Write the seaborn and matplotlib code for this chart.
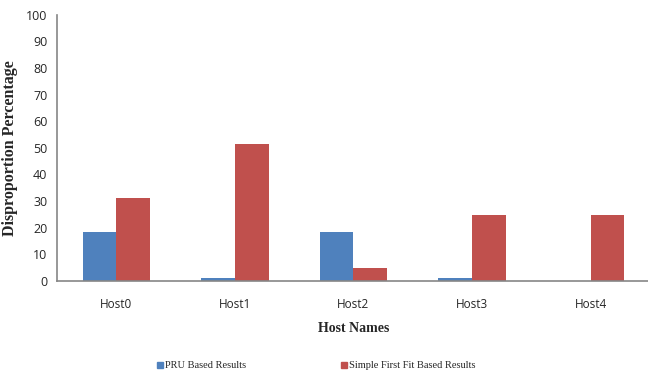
import numpy as np
import pandas as pd
import seaborn as sns
import matplotlib.pyplot as plt
from matplotlib.lines import Line2D

hosts = ['Host0', 'Host1', 'Host2', 'Host3', 'Host4']
series = ['PRU Based Results', 'Simple First Fit Based Results']
pru_values = [18.3, 1.0, 18.3, 1.0, 0.0]
sff_values = [31.1, 51.6, 4.9, 24.7, 24.7]
colors = ['#4F81BD', '#C0504D']

data = pd.DataFrame({
    'host': hosts * 2,
    'series': [series[0]] * len(hosts) + [series[1]] * len(hosts),
    'value': pru_values + sff_values,
})

sns.set_style('white')

fig = plt.figure(figsize=(6.48, 3.71), dpi=100)
ax = fig.add_axes([0.088, 0.243, 0.915, 0.717])

sns.barplot(data=data, x='host', y='value', hue='series', palette=colors,
            width=0.57, saturation=1, linewidth=0, ax=ax, legend=False)

ax.set_xlim(-0.5, 4.5)
ax.set_ylim(0, 100)
ax.set_yticks(np.arange(0, 101, 10))

# tick marks sit between the categories, labels in the middle
ax.set_xticks(np.arange(len(hosts)))
ax.set_xticklabels(hosts, fontsize=8.5, family='Open Sans')
ax.set_xticks(np.arange(-0.5, 4.6, 1), minor=True)
ax.tick_params(axis='x', which='major', length=0, pad=12)
ax.tick_params(axis='x', which='minor', length=4, color='#868686', width=1)
ax.tick_params(axis='y', length=4, color='#868686', width=1, labelsize=9, pad=3)
for lab in ax.get_yticklabels():
    lab.set_family('Open Sans')

for side in ['top', 'right']:
    ax.spines[side].set_visible(False)
for side in ['left', 'bottom']:
    ax.spines[side].set_color('#868686')
    ax.spines[side].set_linewidth(1.2)

ax.set_xlabel('Host Names', fontsize=10, fontweight='bold', family='Liberation Serif', labelpad=8)
ax.set_ylabel('Disproportion Percentage', fontsize=11.5, fontweight='bold', family='Liberation Serif', labelpad=6)

handles = [Line2D([], [], marker='s', linestyle='', color=c, markersize=4) for c in colors]
fig.legend(handles, series, loc='center', bbox_to_anchor=(0.487, 0.014), ncol=2,
           frameon=False, prop={'family': 'Liberation Serif', 'size': 7.5},
           handletextpad=0.1, columnspacing=9, handlelength=0.8)

fig.savefig('out.png', dpi=100)
